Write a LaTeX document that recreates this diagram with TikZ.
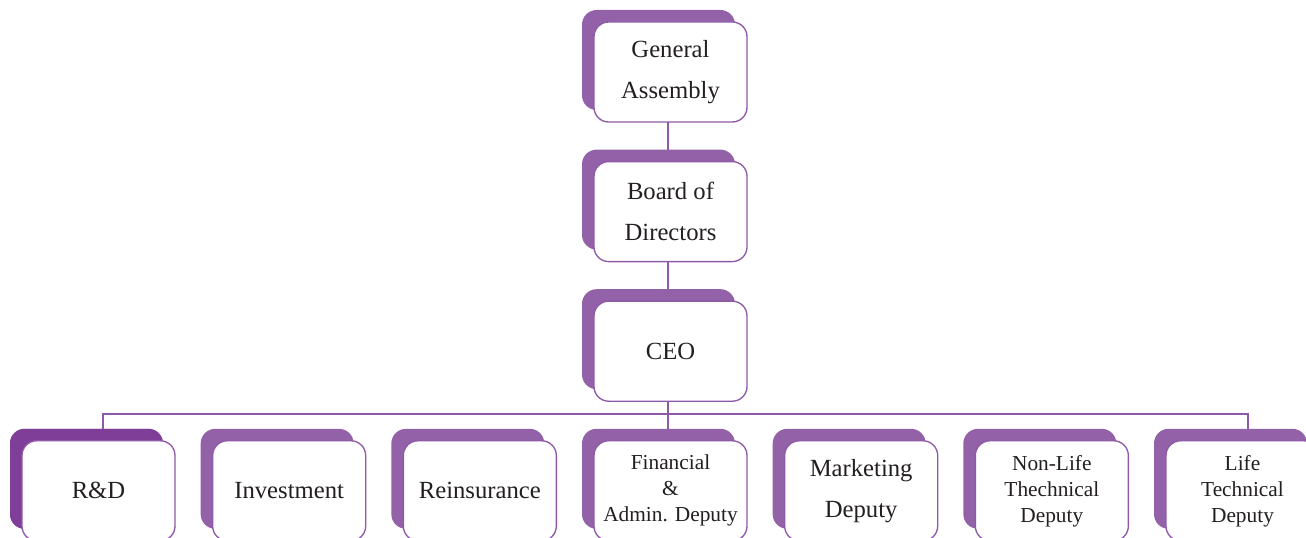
\documentclass[tikz,border=0pt]{standalone}
\usepackage{fontspec}
\setmainfont{Liberation Serif}
\usepackage{tikz}
\usetikzlibrary{shadows,backgrounds}
\definecolor{orgback}{RGB}{146,97,168}
\definecolor{orgdark}{RGB}{127,63,152}
\definecolor{orgline}{RGB}{142,90,168}
\definecolor{orgtext}{RGB}{35,31,32}

\begin{document}
\begin{tikzpicture}[node distance=104.7pt, line width=1pt]
  \tikzstyle{box}=[rectangle, rounded corners=11pt, draw=orgline, fill=white, text=orgtext,
                   minimum width=114.75pt, minimum height=75pt, align=center, inner sep=2pt,
                   font=\fontsize{18.5}{31}\selectfont,
                   general shadow={fill=orgback, shadow xshift=-9pt, shadow yshift=9pt}]
  \tikzstyle{small}=[font=\fontsize{16}{19.5}\selectfont]
  \tikzstyle{dark}=[general shadow={fill=orgdark, shadow xshift=-9pt, shadow yshift=9pt}]
  \tikzstyle{link}=[draw=orgline, line width=1.1pt]

  \useasboundingbox (0,0) rectangle (979.5pt,-403.5pt);

  \node[box] (G) at (502.875pt,-54pt) {General\\Assembly};
  \node[box] (D)      [below of=G]                {Board of\\Directors};
  \node[box] (C)      [below of=D]                {CEO};
  \node[box,small] (F)      [below of=C]                {Financial\\\&\\Admin. Deputy};
  \node[box] (Rs)     [node distance=143pt, left of=F]   {Reinsurance};
  \node[box] (I)      [node distance=143pt, left of=Rs]  {Investment};
  \node[box,dark] (R) [node distance=143pt, left of=I]   {R\&D};
  \node[box] (M)      [node distance=143pt, right of=F]  {Marketing\\Deputy};
  \node[box,small] (N) [node distance=143pt, right of=M] {Non-Life\\Thechnical\\Deputy};
  \node[box,small] (L) [node distance=143pt, right of=N] {Life\\Technical\\Deputy};

  \begin{scope}[on background layer]
    \coordinate (hub) at ([xshift=-1.875pt,yshift=-47.25pt]C.center);
    \draw[link] ([xshift=-1.875pt]G.center) -- ([xshift=-1.875pt]F.center);
    \draw[link] ([xshift=3.375pt]R.center) |- (hub) -| ([xshift=4.125pt]L.center);
  \end{scope}
\end{tikzpicture}
\end{document}
